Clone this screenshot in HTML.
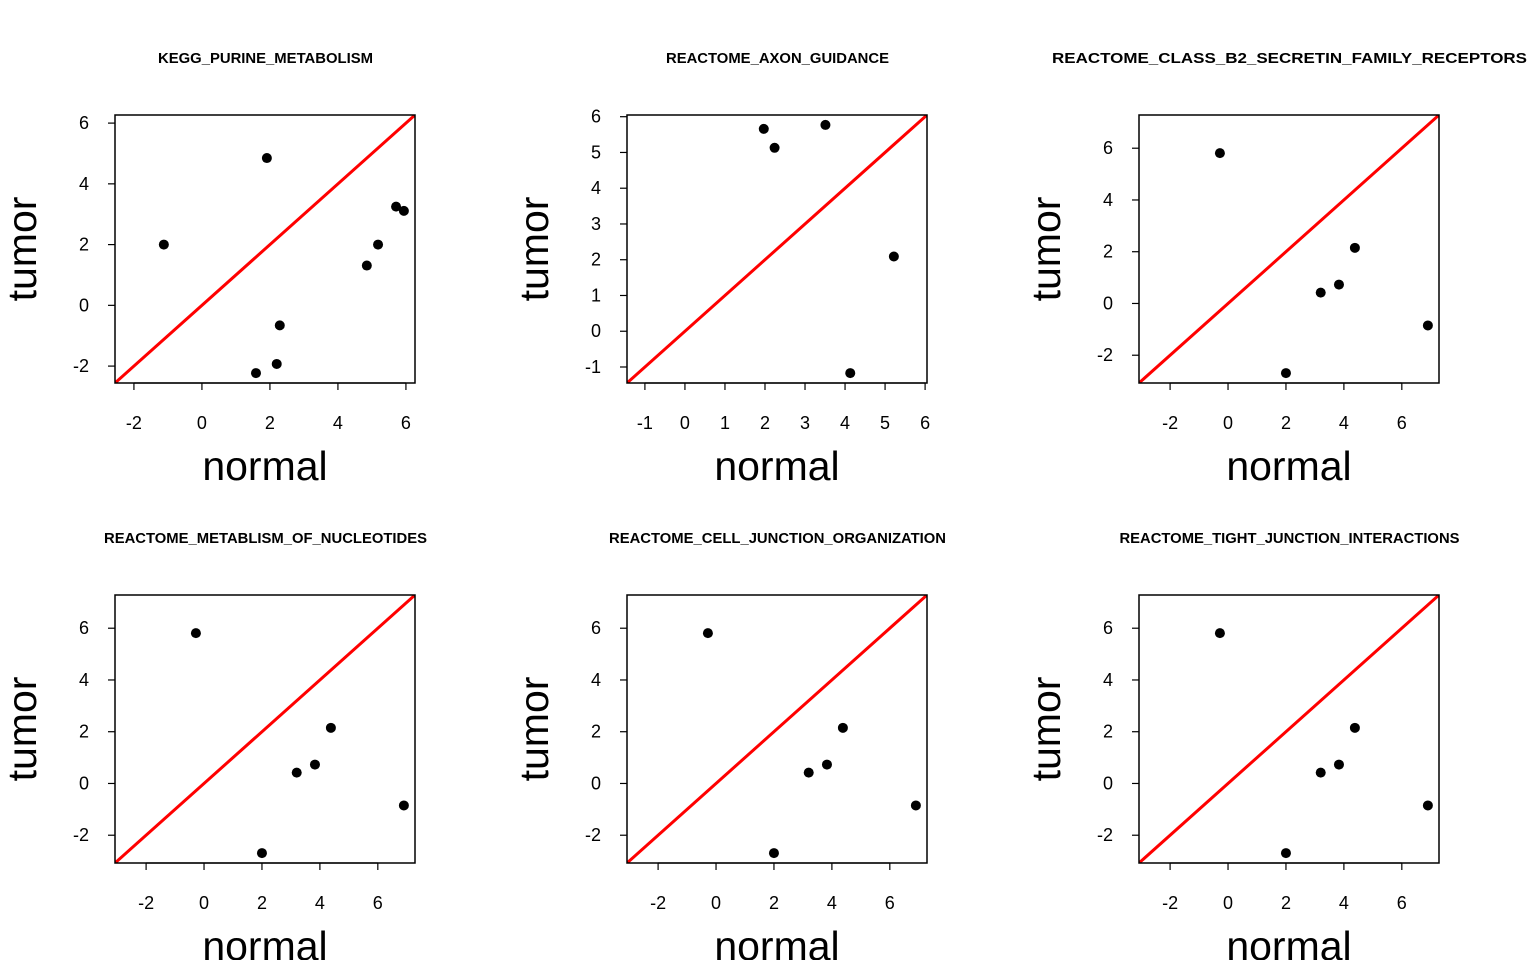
<!DOCTYPE html>
<html><head><meta charset="utf-8"><style>
html,body{margin:0;padding:0;background:#fff;}
svg text{font-family:"Liberation Sans",Arial,sans-serif;}
</style></head><body>
<svg id="fig" width="1536" height="960" xmlns="http://www.w3.org/2000/svg"></svg>
<script>
const titles = ["KEGG_PURINE_METABOLISM","REACTOME_AXON_GUIDANCE","REACTOME_CLASS_B2_SECRETIN_FAMILY_RECEPTORS","REACTOME_METABLISM_OF_NUCLEOTIDES","REACTOME_CELL_JUNCTION_ORGANIZATION","REACTOME_TIGHT_JUNCTION_INTERACTIONS"];
const titleWidths = [215,223,475,323,337,340];
const normal1 = [-1.12,1.91,1.59,2.2,2.29,4.85,5.18,5.71,5.94];
const tumor1 = [2.0,4.85,-2.23,-1.93,-0.66,1.31,2.0,3.25,3.11];
const normal2 = [1.97,2.24,3.51,5.22,4.13];
const tumor2 = [5.66,5.13,5.77,2.09,-1.17];
const normal3 = [-0.28,2.0,3.2,3.83,4.38,6.9];
const tumor3 = [5.81,-2.69,0.42,0.73,2.15,-0.85];
const ticks1 = [-2,0,2,4,6];
const ticks2 = [-1,0,1,2,3,4,5,6];
const ticks3 = [-2,0,2,4,6];
const panels = [
 {x:normal1,y:tumor1,xt:ticks1,yt:ticks1},
 {x:normal2,y:tumor2,xt:ticks2,yt:ticks2},
 {x:normal3,y:tumor3,xt:ticks3,yt:ticks3},
 {x:normal3,y:tumor3,xt:ticks3,yt:ticks3},
 {x:normal3,y:tumor3,xt:ticks3,yt:ticks3},
 {x:normal3,y:tumor3,xt:ticks3,yt:ticks3}
];
const NS="http://www.w3.org/2000/svg";
const svg=document.getElementById('fig');
function mk(tag,attrs,parent){const e=document.createElementNS(NS,tag);for(const k in attrs)e.setAttribute(k,attrs[k]);(parent||svg).appendChild(e);return e;}
panels.forEach((p,i)=>{
  const ox=(i%3)*512, oy=Math.floor(i/3)*480;
  const L=ox+115,R=ox+415,T=oy+115,B=oy+383;
  const all=p.x.concat(p.y);
  let mn=Math.min(...all),mx=Math.max(...all);const pad=0.04*(mx-mn);mn-=pad;mx+=pad;
  const sx=v=>L+(v-mn)/(mx-mn)*(R-L);
  const sy=v=>B-(v-mn)/(mx-mn)*(B-T);
  const g=mk('g',{});
  
  
  const cx = i===2 ? ox+1289.5-512*2+512*2 : ox+265;
  const t=mk('text',{x:(i===2?1289.5:ox+265.5),y:oy+63,'text-anchor':'middle','font-size':14.5,'font-weight':'bold',textLength:titleWidths[i],lengthAdjust:'spacingAndGlyphs'},g);t.textContent=titles[i];
  
  
  const cid='c'+i;
  const cp=mk('clipPath',{id:cid},g);mk('rect',{x:L,y:T,width:R-L,height:B-T},cp);
  const ln=mk('line',{x1:sx(mn),y1:sy(mn),x2:sx(mx),y2:sy(mx),stroke:'#f00','stroke-width':3,'clip-path':'url(#'+cid+')'},g);
  
  
  const bx=mk('rect',{x:L,y:T,width:R-L,height:B-T,fill:'none',stroke:'#000','stroke-width':1.5},g);
  
  
  p.xt.forEach(v=>{const X=sx(v);mk('line',{x1:X,y1:B,x2:X,y2:B+7,stroke:'#000','stroke-width':1.2},g);
    const tx=mk('text',{x:X,y:B+46,'text-anchor':'middle','font-size':18},g);tx.textContent=v;
    
    });
  mk('line',{x1:sx(p.xt[0]),y1:B,x2:sx(p.xt[p.xt.length-1]),y2:B,stroke:'#000','stroke-width':1.2},g);
  p.yt.forEach(v=>{const Y=sy(v);mk('line',{x1:L-7,y1:Y,x2:L,y2:Y,stroke:'#000','stroke-width':1.2},g);
    const ty=mk('text',{x:L-26,y:Y+6,'text-anchor':'end','font-size':18},g);ty.textContent=v;
    
    });
  const xl=mk('text',{x:ox+265,y:oy+480,'text-anchor':'middle','font-size':41},g);xl.textContent='normal';
  
  
  const yl=mk('text',{x:0,y:0,'text-anchor':'middle','font-size':41,transform:'translate('+(ox+36)+','+(oy+249)+') rotate(-90)'},g);yl.textContent='tumor';
  
  
  p.x.forEach((v,j)=>{const c=mk('circle',{cx:sx(v),cy:sy(p.y[j]),r:5,fill:'#000'},g);
    
    });
});
</script>
</body></html>
